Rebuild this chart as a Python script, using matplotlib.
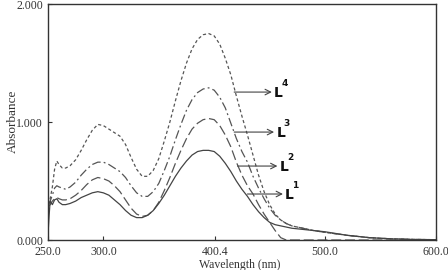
import matplotlib
matplotlib.use("Agg")
import matplotlib.pyplot as plt

plt.rcParams['font.family'] = ['Liberation Serif', 'DejaVu Serif']

wavelength = [250, 251, 252, 254, 256, 258, 260, 263, 266, 270, 275, 280, 285, 290, 295,
              300, 305, 310, 315, 320, 325, 330, 335, 340, 345, 350, 355, 360, 365, 370,
              375, 380, 385, 390, 395, 400, 405, 410, 415, 420, 425, 430, 435, 440, 445,
              450, 455, 460, 465, 470, 480, 490, 500, 520, 540, 560, 580, 600]

L4 = [0.30, 0.32, 0.35, 0.45, 0.60, 0.67, 0.64, 0.61, 0.61, 0.63, 0.68, 0.76, 0.85, 0.93, 0.98,
      0.97, 0.94, 0.91, 0.88, 0.81, 0.70, 0.60, 0.54, 0.54, 0.59, 0.69, 0.84, 1.00, 1.18, 1.35,
      1.50, 1.62, 1.70, 1.74, 1.75, 1.73, 1.66, 1.54, 1.40, 1.22, 1.05, 0.89, 0.72, 0.55, 0.41,
      0.30, 0.22, 0.17, 0.14, 0.12, 0.10, 0.08, 0.065, 0.04, 0.02, 0.01, 0.005, 0.003]

L3 = [0.30, 0.31, 0.33, 0.38, 0.44, 0.46, 0.45, 0.44, 0.43, 0.45, 0.49, 0.55, 0.60, 0.64, 0.66,
      0.66, 0.64, 0.61, 0.58, 0.53, 0.46, 0.40, 0.37, 0.37, 0.41, 0.48, 0.59, 0.71, 0.85, 0.98,
      1.10, 1.19, 1.25, 1.28, 1.29, 1.27, 1.21, 1.12, 0.99, 0.86, 0.75, 0.66, 0.54, 0.44, 0.35,
      0.27, 0.21, 0.17, 0.14, 0.12, 0.10, 0.08, 0.065, 0.04, 0.02, 0.01, 0.005, 0.003]

L2 = [0.28, 0.29, 0.30, 0.33, 0.35, 0.36, 0.35, 0.34, 0.34, 0.35, 0.38, 0.42, 0.47, 0.51, 0.53,
      0.52, 0.50, 0.46, 0.41, 0.34, 0.27, 0.22, 0.20, 0.21, 0.25, 0.32, 0.42, 0.53, 0.65, 0.76,
      0.86, 0.94, 0.99, 1.02, 1.03, 1.02, 0.97, 0.89, 0.79, 0.66, 0.55, 0.46, 0.39, 0.30, 0.22,
      0.15, 0.08, 0.02, 0.0, 0.0, 0.0, 0.0, 0.0, 0.0, 0.0, 0.0, 0.0, 0.0]

L1 = [0.04, 0.20, 0.33, 0.30, 0.34, 0.35, 0.32, 0.30, 0.30, 0.31, 0.33, 0.36, 0.38, 0.40, 0.41,
      0.40, 0.38, 0.34, 0.30, 0.25, 0.21, 0.19, 0.19, 0.21, 0.25, 0.31, 0.38, 0.46, 0.54, 0.61,
      0.67, 0.72, 0.75, 0.76, 0.76, 0.75, 0.71, 0.65, 0.58, 0.50, 0.43, 0.37, 0.30, 0.24, 0.19,
      0.15, 0.13, 0.12, 0.11, 0.10, 0.09, 0.08, 0.07, 0.04, 0.02, 0.01, 0.005, 0.003]

labels = ['4', '3', '2', '1']
arrow_y = [1.254, 0.915, 0.627, 0.39]
arrow_x0 = [418, 418, 421, 430]
arrow_x1 = [452, 454, 457, 462]

xticks = [250, 300, 400.4, 500, 600]
xticklabels = ['250.0', '300.0', '400.4', '500.0', '600.0']
yticks = [0, 1, 2]
yticklabels = ['0.000', '1.000', '2.000']

fig = plt.figure(figsize=(4.48, 2.70), dpi=100)
ax = fig.add_axes([0.107, 0.111, 0.866, 0.874])

col = '#555555'
ax.plot(wavelength, L4, color=col, lw=0.9, linestyle=(0, (2.5, 2)))
ax.plot(wavelength, L3, color=col, lw=0.9, linestyle=(0, (7, 2.5, 1.5, 2.5)))
ax.plot(wavelength, L2, color=col, lw=0.9, linestyle=(0, (8, 3)))
ax.plot(wavelength, L1, color='#444444', lw=0.9, linestyle='-')

for lab, y, x0, x1 in zip(labels, arrow_y, arrow_x0, arrow_x1):
    ax.annotate('', xy=(x1, y), xytext=(x0, y),
                arrowprops=dict(arrowstyle='->', color='#444444', lw=0.8,
                                shrinkA=0, shrinkB=0))
    ax.text(x1 + 2, y - 0.01, 'L', family='DejaVu Sans', fontweight='bold', fontsize=10,
            ha='left', va='center', color='#111111')
    ax.text(x1 + 8.5, y + 0.07, lab, family='DejaVu Sans', fontweight='bold', fontsize=6.5,
            ha='left', va='center', color='#111111')

ax.set_xlim(250, 600)
ax.set_ylim(0, 2)
ax.set_xticks(xticks)
ax.set_xticklabels(xticklabels)
ax.set_yticks(yticks)
ax.set_yticklabels(yticklabels)
ax.tick_params(direction='in', labelsize=8.5, length=3, width=0.8, colors='#333333')
ax.tick_params(axis='x', pad=4.5)
for s in ax.spines.values():
    s.set_linewidth(1.0)
    s.set_color('#333333')

fig.text(0.028, 0.55, 'Absorbance', rotation=90, ha='center', va='center',
         fontsize=9.5, color='#333333')
fig.text(0.535, -0.002, 'Wavelength (nm)', ha='center', va='bottom', fontsize=8.5, color='#333333')

fig.savefig('out.png', dpi=100)
